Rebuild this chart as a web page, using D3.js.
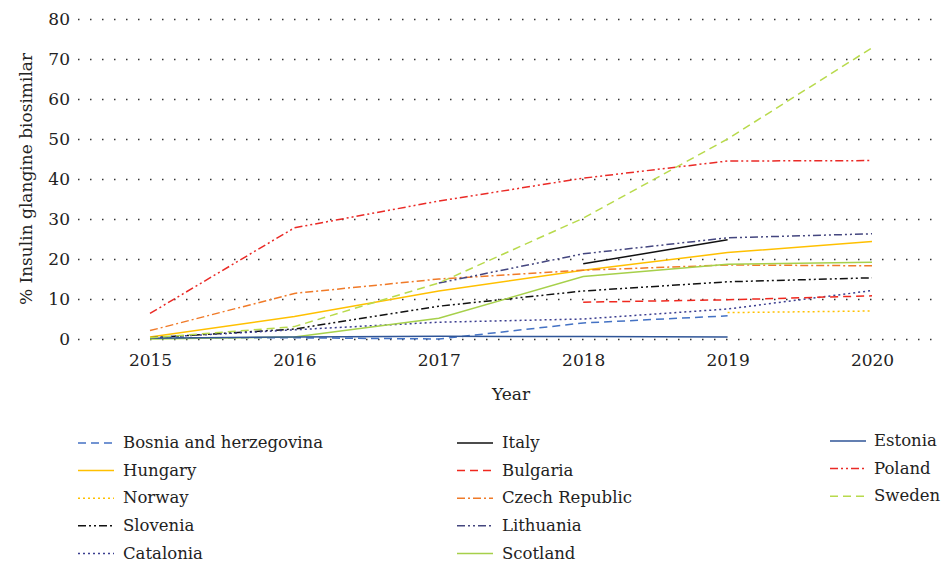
<!DOCTYPE html>
<html>
<head>
<meta charset="utf-8">
<script src="https://cdn.jsdelivr.net/npm/d3@7"></script>
<style>
  body { margin: 0; background: #fff; }
  svg { display: block; }
  svg text { font-family: "DejaVu Serif", serif !important; }
</style>
</head>
<body>
<svg></svg>
<script>
// data (null = no value)
var years = [2015, 2016, 2017, 2018, 2019, 2020]
var yTicks = [0, 10, 20, 30, 40, 50, 60, 70, 80]

var bosnia     = [0.3, 0.3, 0, 4, 5.8, null]
var hungary    = [0.5, 5.6, 12, 17.2, 21.6, 24.4]
var norway     = [null, null, null, null, 6.6, 7.0]
var slovenia   = [0.3, 2.5, 8.2, 12, 14.3, 15.3]
var catalonia  = [0.3, 2.3, 4.2, 5, 7.5, 12.1]
var italy      = [null, null, null, 18.8, 24.8, null]
var bulgaria   = [null, null, null, 9.2, 9.8, 10.8]
var czech      = [2.1, 11.4, 15, 17.2, 18.5, 18.3]
var lithuania  = [null, null, 14, 21.3, 25.3, 26.3]
var scotland   = [0, 0.5, 5.2, 15.6, 18.7, 19.2]
var estonia    = [0.2, 0.5, 0.7, 0.6, 0.5, null]
var poland     = [6.4, 27.8, 34.5, 40.2, 44.5, 44.6]
var sweden     = [0.3, 3.1, 14, 30.2, 50, 72.8]

var names = ["Bosnia and herzegovina", "Hungary", "Norway", "Slovenia", "Catalonia",
             "Italy", "Bulgaria", "Czech Republic", "Lithuania", "Scotland",
             "Estonia", "Poland", "Sweden"]
var values = [bosnia, hungary, norway, slovenia, catalonia,
              italy, bulgaria, czech, lithuania, scotland,
              estonia, poland, sweden]

var colors = ["#4472c4", "#ffc000", "#ffc000", "#111111", "#3a3d8f",
              "#111111", "#f0281e", "#f07a28", "#44467f", "#a6d04a",
              "#2f5597", "#ea2a26", "#b8da4c"]
var dashes = ["8,5", null, "2,3", "8,3,2,3,2,3", "2,3",
              null, "8,5", "8,3,2,3", "8,3,2,3,2,3", null,
              null, "8,3,2,3,2,3", "8,5"]

var series = names.map((n, i) => ({
    name: n, values: values[i], color: colors[i], dash: dashes[i]
}))

var width = 946, height = 562,
    fontSize = "17px"

var svg = d3.select("svg")
    .attr("width", width)
    .attr("height", height)

var x = d3.scalePoint().domain(years).range([150, 872])
var y = d3.scaleLinear().domain([0, 80]).range([339, 19])

// y axis + dotted gridlines
var yAxis = svg.append("g")
    .attr("transform", "translate(78,0)")
    .call(d3.axisLeft(y).tickValues(yTicks).tickSize(-(940 - 78)).tickPadding(8))
yAxis.select(".domain").remove()
yAxis.selectAll(".tick line")
    .attr("stroke", "#333")
    .attr("stroke-width", 1.5)
    .attr("stroke-dasharray", "1.5,10.5")
yAxis.selectAll(".tick text")
    .attr("x", -8)
    .style("font-size", fontSize)
    .attr("fill", "#222")

// x axis
var xAxis = svg.append("g")
    .attr("transform", "translate(0,339)")
    .call(d3.axisBottom(x).tickSize(0).tickPadding(15))
xAxis.select(".domain").remove()
xAxis.selectAll(".tick text")
    .style("font-size", fontSize)
    .attr("fill", "#222")

svg.append("text")
    .attr("x", 511).attr("y", 400)
    .attr("text-anchor", "middle")
    .style("font-size", fontSize)
    .attr("fill", "#222")
    .text("Year")

svg.append("text")
    .attr("transform", "translate(32,179) rotate(-90)")
    .attr("text-anchor", "middle")
    .style("font-size", fontSize)
    .attr("fill", "#222")
    .text("% Insulin glangine biosimilar")

var line = d3.line()
    .defined(d => d != null)
    .x((d, i) => x(years[i]))
    .y(d => y(d))

svg.append("g").selectAll("path")
    .data(series)
    .enter().append("path")
    .attr("d", d => line(d.values))
    .attr("fill", "none")
    .attr("stroke", d => d.color)
    .attr("stroke-width", 1.5)
    .attr("stroke-dasharray", d => d.dash)

// legend: 3 columns
var colX = [78, 457, 830]
var legendItems = series.map((s, i) => {
    var col = i < 5 ? 0 : i < 10 ? 1 : 2
    var row = i < 5 ? i : i < 10 ? i - 5 : i - 10
    return Object.assign({ col: col, row: row }, s)
})

var legend = svg.append("g").selectAll("g")
    .data(legendItems)
    .enter().append("g")
    .attr("transform", d => "translate(" + colX[d.col] + "," + ((d.col == 2 ? 441 : 443) + d.row * 27.6) + ")")

legend.append("line")
    .attr("x1", 0).attr("x2", 36)
    .attr("stroke", d => d.color)
    .attr("stroke-width", 1.5)
    .attr("stroke-dasharray", d => d.dash)

legend.append("text")
    .attr("x", d => d.col == 2 ? 44 : 45)
    .attr("dy", "0.32em")
    .style("font-size", "16.5px")
    .attr("fill", "#222")
    .text(d => d.name)
</script>
</body>
</html>
